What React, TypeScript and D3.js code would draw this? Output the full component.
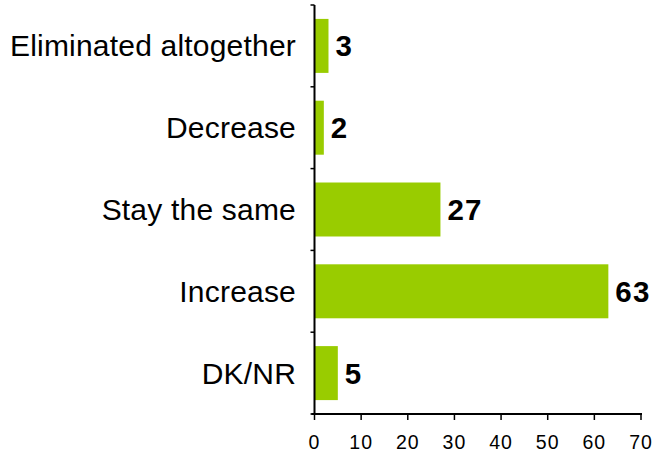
import React from "react";
import * as d3 from "d3";

// Survey responses, percent of respondents
const categories: string[] = [
  "Eliminated altogether",
  "Decrease",
  "Stay the same",
  "Increase",
  "DK/NR",
];
const values: number[] = [3, 2, 27, 63, 5];
const xTicks: number[] = [0, 10, 20, 30, 40, 50, 60, 70];

const W = 655;
const H = 452;
const BAR_COLOR = "#99CC00";
const FONT = "Arial, 'Liberation Sans', Helvetica, sans-serif";

export default function App() {
  const x = d3.scaleLinear().domain([0, 70]).range([314.5, 641]);
  const y = d3
    .scaleBand<string>()
    .domain(categories)
    .range([5, 414])
    .paddingInner(0.34)
    .paddingOuter(0.17);

  const step = y.step();
  const gap = (step - y.bandwidth()) / 2;
  // Category boundaries for the outward ticks on the value axis
  const bounds = categories.map((c) => (y(c) as number) - gap);
  bounds.push(y.range()[1]);

  const axisY = 414;
  const axisX = x(0);

  return (
    <svg
      width={W}
      height={H}
      style={{ position: "absolute", left: 0, top: 0, background: "#fff" }}
      fontFamily={FONT}
    >
      {/* bars */}
      {categories.map((c, i) => (
        <rect
          key={c}
          x={x(0)}
          y={y(c)}
          width={x(values[i]) - x(0)}
          height={y.bandwidth()}
          fill={BAR_COLOR}
        />
      ))}

      {/* category axis */}
      <line x1={axisX} x2={axisX} y1={5} y2={axisY} stroke="#000" strokeWidth={2} />
      {bounds.map((b, i) => (
        <line key={i} x1={axisX - 4} x2={axisX} y1={b} y2={b} stroke="#000" strokeWidth={1.5} />
      ))}
      {categories.map((c) => (
        <text
          key={c}
          x={296}
          y={(y(c) as number) + y.bandwidth() / 2 + 10.5}
          textAnchor="end"
          fontSize={30}
          letterSpacing={0.2}
          fill="#000"
        >
          {c}
        </text>
      ))}

      {/* value axis */}
      <line x1={axisX - 3} x2={x(70) + 1} y1={axisY} y2={axisY} stroke="#000" strokeWidth={2} />
      {xTicks.map((t) => (
        <g key={t}>
          <line x1={x(t)} x2={x(t)} y1={axisY} y2={axisY + 6} stroke="#000" strokeWidth={1.5} />
          <text
            x={x(t)}
            y={449}
            textAnchor="middle"
            fontSize={19.5}
            letterSpacing={1}
            fill="#000"
          >
            {t}
          </text>
        </g>
      ))}

      {/* value labels */}
      {categories.map((c, i) => (
        <text
          key={c}
          x={x(values[i]) + 7}
          y={(y(c) as number) + y.bandwidth() / 2 + 10.5}
          fontSize={29.5}
          letterSpacing={1.2}
          fontWeight="bold"
          fill="#000"
        >
          {values[i]}
        </text>
      ))}
    </svg>
  );
}
